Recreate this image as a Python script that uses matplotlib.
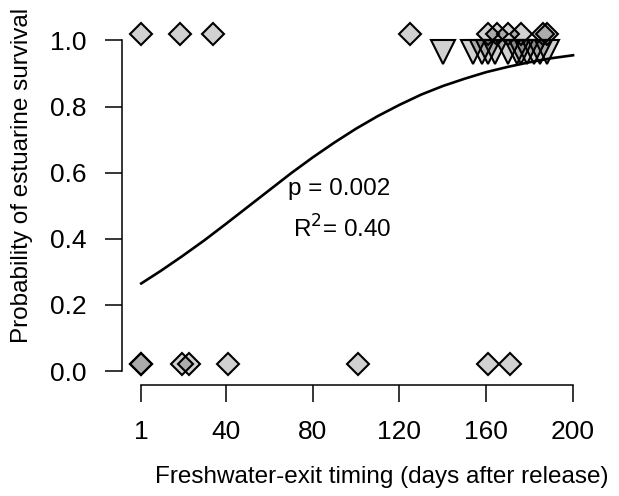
"""Probability of estuarine survival vs freshwater-exit timing"""

import matplotlib
matplotlib.use('Agg')
import matplotlib.pyplot as plt

plt.rcParams['font.family'] = ['Liberation Sans', 'DejaVu Sans']

# fish that survived (diamonds at the top) and died (diamonds at the bottom)
survived_days = [1, 19, 34, 125, 161, 165, 170, 176, 186, 188]
survived_y = [1.02] * len(survived_days)
died_days = [1, 1, 20, 23, 41, 101, 161, 171]
died_y = [0.02] * len(died_days)
# the second group is drawn as triangles just under 1.0
tri_days = [140, 154, 158, 161, 164, 170, 174, 176, 179, 182, 185, 188]
tri_y = [0.965] * len(tri_days)

# fitted logistic curve
curve_days = [1, 10, 20, 30, 40, 50, 60, 70, 80, 90, 100, 110, 120,
              130, 140, 150, 160, 170, 180, 190, 200]
curve_prob = [0.265, 0.303, 0.348, 0.395, 0.445, 0.496, 0.547, 0.598,
              0.646, 0.691, 0.733, 0.771, 0.805, 0.836, 0.862, 0.884,
              0.904, 0.920, 0.934, 0.946, 0.955]

x_ticks = [1, 40, 80, 120, 160, 200]
y_ticks = [0.0, 0.2, 0.4, 0.6, 0.8, 1.0]

fill = (0.0, 0.0, 0.0, 0.18)

fig = plt.figure(figsize=(6.19, 4.96), dpi=100)
ax = fig.add_axes([0.1966, 0.2238, 0.7572, 0.7548])

ax.plot(tri_days, tri_y, 'v', ms=17, mfc=fill, mec='black', mew=1.5, ls='none')
ax.plot(survived_days, survived_y, 'D', ms=11.5, mfc=fill, mec='black', mew=1.5, ls='none')
ax.plot(died_days, died_y, 'D', ms=11.5, mfc=fill, mec='black', mew=1.5, ls='none')
ax.plot(curve_days, curve_prob, color='black', lw=1.9)

ax.text(92, 0.55, 'p = 0.002', fontsize=17.5, ha='center', va='center')
ax.text(93.5, 0.43, 'R$^2$= 0.40', fontsize=17.5, ha='center', va='center')

# R style axes: only left and bottom, spanning the ticks
ax.set_xlim(-8, 208)
ax.set_ylim(-0.042, 1.09)
for s in ['top', 'right']:
    ax.spines[s].set_visible(False)
ax.spines['left'].set_bounds(0, 1)
ax.spines['bottom'].set_bounds(1, 200)
ax.spines['left'].set_linewidth(1.1)
ax.spines['bottom'].set_linewidth(1.1)
ax.set_xticks(x_ticks)
ax.set_yticks(y_ticks)
ax.set_yticklabels([f'{v:.1f}' for v in y_ticks])
ax.tick_params(direction='out', length=12.5, width=1.1, labelsize=19, pad=13)

ax.set_xlabel('Freshwater-exit timing (days after release)', fontsize=17.5)
ax.set_ylabel('Probability of estuarine survival', fontsize=17.5)
ax.xaxis.label.set_va('center')
ax.yaxis.label.set_va('center')
ax.xaxis.set_label_coords(0.555, -0.246)
ax.yaxis.set_label_coords(-0.2127, 0.561)

fig.savefig('out.png', dpi=100)
